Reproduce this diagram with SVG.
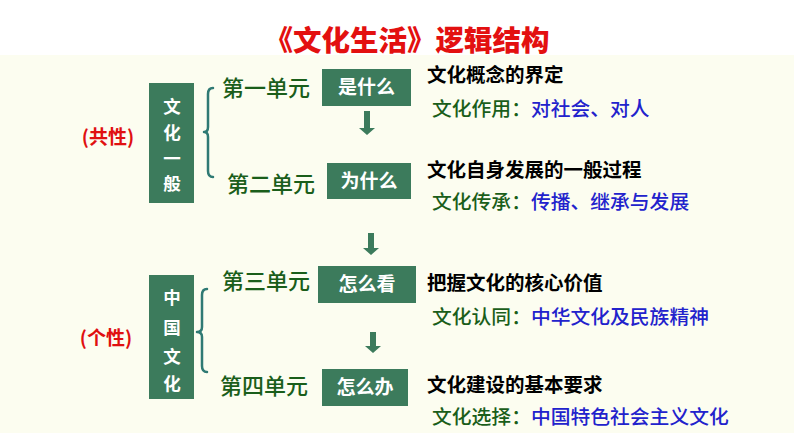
<svg xmlns="http://www.w3.org/2000/svg" width="794" height="447" viewBox="0 0 794 447">
<defs>
<style>
text{font-family:"Noto Sans CJK SC","Noto Sans",sans-serif}
.box{fill:#3c7b5c}
.wt{fill:#ffffff;font-weight:700;font-size:17.5px;text-anchor:middle}
.bt{fill:#ffffff;font-weight:700;font-size:19px;text-anchor:middle}
.unit{fill:#1a5e1a;font-size:22px;font-weight:500}
.hd{fill:#000;font-weight:700;font-size:19.5px}
.gr{fill:#1a5e1a}
.bl{fill:#2222cc}
.sub{font-size:19.8px;font-weight:500}
.red{fill:#e01010;font-weight:700;font-size:19px}
.arr{fill:#3c7b5c}
.brace{fill:none;stroke:#2f7a74;stroke-width:2.5;stroke-linecap:round;stroke-linejoin:round}
</style>
</defs>
<rect x="0" y="0" width="794" height="447" fill="#ffffff"/>
<rect x="0" y="55" width="794" height="378" fill="#fcfdf0"/>
<text x="407" y="51" text-anchor="middle" font-size="28.5" font-weight="900" fill="#e31010">《文化生活》逻辑结构</text>

<g id="gongxing"><text class="red" x="108" y="144" text-anchor="middle">(共性)</text></g>
<g id="gexing"><text class="red" x="106" y="345" text-anchor="middle">(个性)</text></g>

<g id="wenhua-yiban">
<rect class="box" x="149" y="83" width="45" height="120"/>
<text class="wt" x="172" y="113">文</text>
<text class="wt" x="172" y="139">化</text>
<text class="wt" x="172" y="165">一</text>
<text class="wt" x="172" y="190">般</text>
</g>
<g id="zhongguo-wenhua">
<rect class="box" x="149" y="275" width="45" height="124"/>
<text class="wt" x="172" y="304">中</text>
<text class="wt" x="172" y="334">国</text>
<text class="wt" x="172" y="363">文</text>
<text class="wt" x="172" y="390">化</text>
</g>

<g id="unit1"><text class="unit" x="222" y="96">第一单元</text></g>
<g id="unit2"><text class="unit" x="227" y="192">第二单元</text></g>
<g id="unit3"><text class="unit" x="222" y="289">第三单元</text></g>
<g id="unit4"><text class="unit" x="220" y="394">第四单元</text></g>

<g id="shishenme"><rect class="box" x="322" y="69" width="89" height="37"/><text class="bt" x="366.5" y="94">是什么</text></g>
<g id="weishenme"><rect class="box" x="327" y="163" width="84" height="36"/><text class="bt" x="369" y="188">为什么</text></g>
<g id="zenmekan"><rect class="box" x="318" y="266" width="98" height="37"/><text class="bt" x="367" y="291">怎么看</text></g>
<g id="zenmeban"><rect class="box" x="322" y="369" width="86" height="37"/><text class="bt" x="365" y="394">怎么办</text></g>

<g id="desc1">
<text class="hd" x="427" y="82">文化概念的界定</text>
<text class="sub" x="432" y="116"><tspan class="gr">文化作用：</tspan><tspan class="bl">对社会、对人</tspan></text>
</g>
<g id="desc2">
<text class="hd" x="427" y="177">文化自身发展的一般过程</text>
<text class="sub" x="432" y="209"><tspan class="gr">文化传承：</tspan><tspan class="bl">传播、继承与发展</tspan></text>
</g>
<g id="desc3">
<text class="hd" x="427" y="290">把握文化的核心价值</text>
<text class="sub" x="432" y="324"><tspan class="gr">文化认同：</tspan><tspan class="bl">中华文化及民族精神</tspan></text>
</g>
<g id="desc4">
<text class="hd" x="427" y="392">文化建设的基本要求</text>
<text class="sub" x="432" y="424"><tspan class="gr">文化选择：</tspan><tspan class="bl">中国特色社会主义文化</tspan></text>
</g>

<g id="connectors">
<path class="brace" d="M213,88 Q208,88 208,94 L208,127 Q208,132 204,132 Q208,132 208,137 L208,171 Q208,177 213,177"/>
<path class="brace" d="M207,289 Q202,289 202,295 L202,327 Q202,332 197,332 Q202,332 202,337 L202,366 Q202,372 207,372"/>
<polygon class="arr" points="364,111 370,111 370,128 375,128 367,135 359,128 364,128"/>
<polygon class="arr" points="368,233 374,233 374,248 379,248 371,255 363,248 368,248"/>
<polygon class="arr" points="370,332 376,332 376,346 381,346 373,353 365,346 370,346"/>
</g>
</svg>
